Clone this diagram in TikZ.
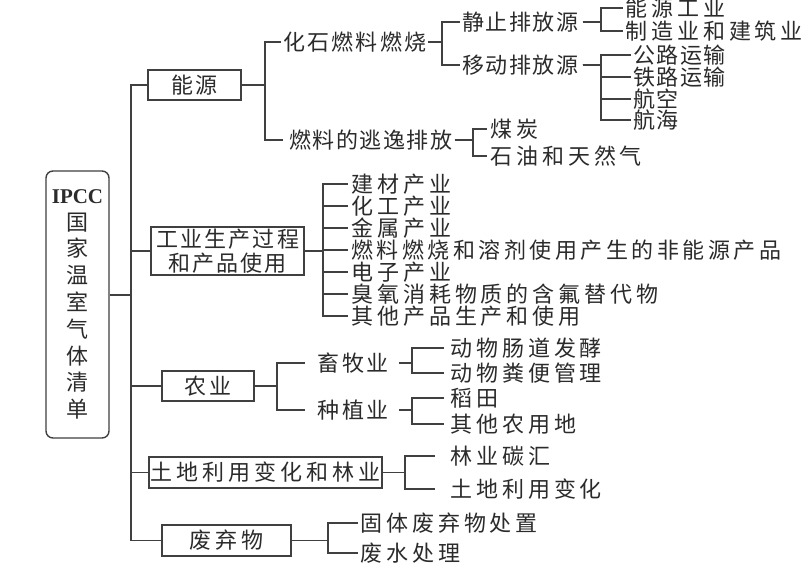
\documentclass[tikz,border=0pt]{standalone}
\usepackage{fontspec}
\newfontfamily\cjkA[LetterSpace=7]{Noto Sans CJK SC}
\newfontfamily\cjkB[LetterSpace=10]{Noto Sans CJK SC}
\newfontfamily\cjkC[LetterSpace=18]{Noto Sans CJK SC}
\newfontfamily\cjkD[LetterSpace=13]{Noto Sans CJK SC}
\newfontfamily\cjkL[LetterSpace=16]{Noto Sans CJK SC}
\newfontfamily\cjkR{Noto Sans CJK SC}
\newfontfamily\ipccfont{Liberation Serif}
\definecolor{txt}{HTML}{2B2B2B}
\definecolor{lnc}{HTML}{404040}
\tikzset{
  ln/.style={draw=lnc, line width=1.3pt},
  lbl/.style={inner sep=0pt, anchor=west, text=txt},
  sA/.style={font=\cjkA\fontsize{22}{26}\selectfont},
  sB/.style={font=\cjkB\fontsize{22}{26}\selectfont},
  sC/.style={font=\cjkC\fontsize{22}{26}\selectfont},
  sD/.style={font=\cjkD\fontsize{22}{26}\selectfont},
  sL/.style={font=\cjkL\fontsize{22}{26}\selectfont},
  box/.style={draw=lnc, line width=1.4pt, inner sep=0pt, text=txt, align=center},
  rootbox/.style={draw=lnc, line width=1.4pt, rounded corners=7pt, inner sep=0pt,
    text=txt, align=center, minimum width=63pt, minimum height=267pt,
    font=\cjkR\fontsize{22}{26.8}\selectfont},
}
% parent, spine, child, parent gap, child gap
\newcommand\conn[5]{\draw[ln] ([xshift=#4]#1.east) -- (#1.east -| #2) |- ([xshift=-#5]#3.west);}
\begin{document}
\begin{tikzpicture}[x=1pt,y=-1pt]
\useasboundingbox[fill=white] (0,0) rectangle (808,572);

% root
\node[rootbox] (root) at (77.5,304.5) {{\ipccfont\bfseries\fontsize{21}{26}\selectfont IPCC}\\国\\家\\温\\室\\气\\体\\清\\单};

% level 1 boxes
\node[box, sB, minimum width=93pt, minimum height=30pt] (nengyuan) at (194.5,85) {能源};
\node[box, sB, minimum width=153pt, minimum height=48pt, font=\cjkB\fontsize{22}{23.5}\selectfont] (gongye) at (227.5,251) {工业生产过程\\和产品使用};
\node[box, sD, minimum width=92pt, minimum height=30pt] (nongye) at (208,386) {农业};
\node[box, sC, minimum width=233pt, minimum height=31pt] (tudi) at (265.5,472.5) {土地利用变化和林业};
\node[box, sC, minimum width=129pt, minimum height=31pt] (feiqi) at (226.5,540.5) {废弃物};

% spines
\coordinate (s0) at (131,0);
\coordinate (s1) at (265,0);
\coordinate (s2) at (442,0);
\coordinate (s3) at (601,0);
\coordinate (s5) at (473,0);
\coordinate (s6) at (323,0);
\coordinate (s7) at (277,0);
\coordinate (s8) at (412,0);
\coordinate (s10) at (405,0);
\coordinate (s11) at (328,0);

% energy subtree
\node[lbl, sB] (huashi) at (283,42) {化石燃料燃烧};
\node[lbl, sA] (taoyi) at (289,140) {燃料的逃逸排放};
\node[lbl, sA] (jingzhi) at (462,22) {静止排放源};
\node[lbl, sA] (yidong) at (462,65) {移动排放源};
\node[lbl, sC] (nyu) at (625,8) {能源工业};
\node[lbl, sC] (zhizao) at (625,31) {制造业和建筑业};
\node[lbl, sA] (gonglu) at (633,55) {公路运输};
\node[lbl, sA] (tielu) at (633,77) {铁路运输};
\node[lbl, sA] (hangkong) at (633,99) {航空};
\node[lbl, sA] (hanghai) at (633,120) {航海};
\node[lbl, sC] (meitan) at (490,129) {煤炭};
\node[lbl, sC] (shiyou) at (490,156) {石油和天然气};

% industry subtree
\node[lbl, sC] (i1) at (351,184) {建材产业};
\node[lbl, sC] (i2) at (351,206) {化工产业};
\node[lbl, sC] (i3) at (351,228) {金属产业};
\node[lbl, sL] (i4) at (351,250) {燃料燃烧和溶剂使用产生的非能源产品};
\node[lbl, sC] (i5) at (351,272) {电子产业};
\node[lbl, sC] (i6) at (351,294) {臭氧消耗物质的含氟替代物};
\node[lbl, sC] (i7) at (351,316) {其他产品生产和使用};

% agriculture subtree
\node[lbl, sD] (xumu) at (317,363) {畜牧业};
\node[lbl, sD] (zhongzhi) at (317,410) {种植业};
\node[lbl, sC] (a1) at (450,348) {动物肠道发酵};
\node[lbl, sC] (a2) at (450,373) {动物粪便管理};
\node[lbl, sC] (a3) at (450,398) {稻田};
\node[lbl, sC] (a4) at (450,424) {其他农用地};

% land use subtree
\node[lbl, sC] (l1) at (450,456) {林业碳汇};
\node[lbl, sC] (l2) at (450,489) {土地利用变化};

% waste subtree
\node[lbl, sC] (w1) at (360,523) {固体废弃物处置};
\node[lbl, sC] (w2) at (360,553) {废水处理};

% trunk
\coordinate (r0) at ([yshift=9.5pt]root.east);
\draw[ln] (r0) -- (r0 -| s0);
\foreach \b in {nengyuan,gongye,nongye,tudi,feiqi}{
  \draw[ln] (r0 -| s0) |- (\b.west);
}

% connectors
\conn{nengyuan}{s1}{huashi}{0pt}{2pt}
\conn{nengyuan}{s1}{taoyi}{0pt}{6pt}
\conn{huashi}{s2}{jingzhi}{2pt}{2pt}
\conn{huashi}{s2}{yidong}{2pt}{2pt}
\conn{jingzhi}{s3}{nyu}{4pt}{2pt}
\conn{jingzhi}{s3}{zhizao}{4pt}{2pt}
\foreach \c in {gonglu,tielu,hangkong,hanghai}{
  \conn{yidong}{s3}{\c}{4pt}{2pt}
}
\conn{taoyi}{s5}{meitan}{2pt}{3pt}
\conn{taoyi}{s5}{shiyou}{2pt}{3pt}
\foreach \c in {i1,i2,i3,i4,i5,i6,i7}{
  \conn{gongye}{s6}{\c}{0pt}{3pt}
}
\conn{nongye}{s7}{xumu}{0pt}{12pt}
\conn{nongye}{s7}{zhongzhi}{0pt}{12pt}
\conn{xumu}{s8}{a1}{10pt}{6pt}
\conn{xumu}{s8}{a2}{10pt}{6pt}
\conn{zhongzhi}{s8}{a3}{10pt}{6pt}
\conn{zhongzhi}{s8}{a4}{10pt}{6pt}
\conn{tudi}{s10}{l1}{0pt}{15pt}
\conn{tudi}{s10}{l2}{0pt}{15pt}
\conn{feiqi}{s11}{w1}{0pt}{2pt}
\conn{feiqi}{s11}{w2}{0pt}{2pt}
\end{tikzpicture}
\end{document}
